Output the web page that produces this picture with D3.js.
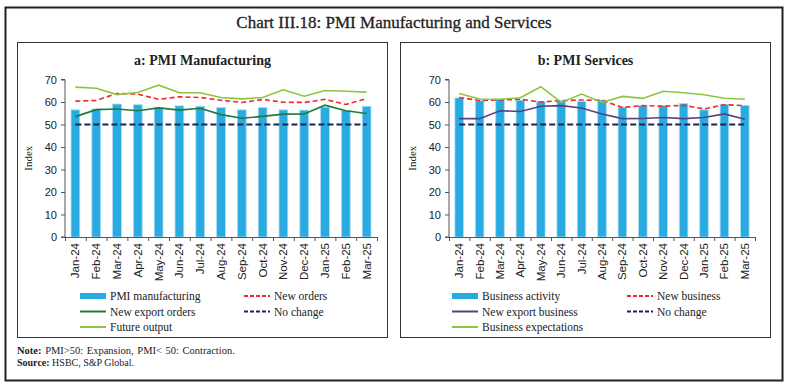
<!DOCTYPE html>
<html>
<head>
<meta charset="utf-8">
<script src="https://cdn.jsdelivr.net/npm/d3@7"></script>
<style>
  body { margin: 0; background: #fff; }
  svg { display: block; font-family: 'Liberation Serif', 'DejaVu Serif', serif; }
  .axis text { font-size: 11px; fill: #222; }
  .axis path, .axis line { stroke: #555; }
  .leg { font-size: 11.5px; fill: #222; }
</style>
</head>
<body>
<script>
var months = ["Jan-24", "Feb-24", "Mar-24", "Apr-24", "May-24", "Jun-24", "Jul-24", "Aug-24",
  "Sep-24", "Oct-24", "Nov-24", "Dec-24", "Jan-25", "Feb-25", "Mar-25"];
var yTicks = [0, 10, 20, 30, 40, 50, 60, 70];

// panel a: manufacturing
var pmiManufacturing = [56.5, 56.9, 59.1, 58.8, 57.5, 58.3, 58.1, 57.5, 56.5, 57.5, 56.5, 56.4, 57.7, 56.3, 58.1];
var newOrders = [60.4, 60.7, 63.8, 63.5, 61.2, 62.3, 62.0, 60.8, 59.8, 61.1, 59.9, 59.8, 61.2, 58.9, 61.5];
var newExportOrders = [53.5, 56.6, 56.9, 56.1, 57.4, 56.4, 57.2, 54.4, 52.8, 53.6, 54.6, 54.7, 58.6, 56.1, 54.9];
var futureOutput = [66.6, 66.1, 63.3, 64.2, 67.5, 64.1, 64.1, 62.0, 61.4, 62.0, 65.4, 62.6, 65.1, 64.8, 64.4];

// panel b: services
var businessActivity = [61.8, 60.6, 61.2, 60.8, 60.2, 60.5, 60.3, 60.9, 57.7, 58.5, 58.4, 59.3, 56.5, 59.0, 58.5];
var newBusiness = [62.0, 60.7, 60.9, 61.2, 60.0, 60.6, 60.9, 60.7, 57.6, 58.4, 58.1, 58.5, 56.9, 58.8, 58.4];
var newExportBusiness = [52.6, 52.6, 56.1, 55.8, 58.1, 58.4, 57.3, 54.7, 52.6, 52.7, 53.1, 52.6, 53.1, 54.7, 52.3];
var businessExpectations = [63.8, 61.3, 61.2, 61.9, 66.8, 59.8, 63.5, 59.8, 62.5, 61.6, 64.8, 64.1, 63.2, 61.7, 61.2];

var noChange = months.map(function () { return 50; });

var W = 788, H = 387;
var svg = d3.select("body").append("svg").attr("width", W).attr("height", H);

// outer frame
svg.append("rect").attr("x", 5.5).attr("y", 7.5).attr("width", 777).attr("height", 373)
  .attr("fill", "none").attr("stroke", "#222").attr("stroke-width", 2);

svg.append("text").attr("x", 394).attr("y", 28).attr("text-anchor", "middle")
  .style("font-size", "17px").style("fill", "#222").style("stroke", "#222").style("stroke-width", 0.3)
  .text("Chart III.18: PMI Manufacturing and Services");

// notes
var note = svg.append("text").attr("x", 17).attr("y", 354).style("font-size", "10.5px").style("fill", "#222")
  .style("word-spacing", "1px");
note.append("tspan").style("font-weight", "bold").text("Note: ");
note.append("tspan").text("PMI>50: Expansion, PMI< 50: Contraction.");
var src = svg.append("text").attr("x", 17).attr("y", 366).style("font-size", "10px").style("fill", "#222");
src.append("tspan").style("font-weight", "bold").text("Source: ");
src.append("tspan").text("HSBC, S&P Global.");

function panel(cfg) {
  var g = svg.append("g");
  g.append("rect").attr("x", cfg.bx).attr("y", 42.5).attr("width", cfg.bw).attr("height", 295)
    .attr("fill", "none").attr("stroke", "#333").attr("stroke-width", 1);
  g.append("text").attr("x", cfg.bx + cfg.bw / 2).attr("y", 65).attr("text-anchor", "middle")
    .style("font-size", "14px").style("font-weight", "bold").style("fill", "#222").text(cfg.title);

  var x = d3.scaleBand().domain(months).range([cfg.x0, cfg.x1]).paddingInner(0.58).paddingOuter(0.29);
  var xEdge = d3.scaleLinear().domain([0, months.length]).range([cfg.x0, cfg.x1]);
  var y = d3.scaleLinear().domain([0, 70]).range([237, 79.5]);

  // bars
  g.selectAll("rect.bar").data(cfg.bars).enter().append("rect").attr("class", "bar")
    .attr("x", function (d, i) { return x(months[i]); })
    .attr("y", function (d) { return y(d); })
    .attr("width", x.bandwidth())
    .attr("height", function (d) { return y(0) - y(d); })
    .attr("fill", "#29abe2").attr("stroke", "#a8dcf3").attr("stroke-width", 0.8);

  // y axis
  var ya = g.append("g").attr("class", "axis").attr("transform", "translate(" + cfg.x0 + ",0)")
    .call(d3.axisLeft(y).tickValues(yTicks).tickSize(4).tickPadding(4));
  ya.select(".domain").attr("d", "M-4," + y(70) + "H0V" + y(0) + "H-4");

  // x axis: edge ticks + month labels
  g.append("g").attr("class", "axis").attr("transform", "translate(0,237)")
    .call(d3.axisBottom(xEdge).ticks(months.length).tickFormat("").tickSizeInner(4).tickSizeOuter(4));
  var xa = g.append("g").attr("class", "axis").attr("transform", "translate(0,237)")
    .call(d3.axisBottom(x).tickSize(0));
  xa.select(".domain").remove();
  xa.selectAll("text").style("font-size", "11.5px").attr("transform", "rotate(-90)").attr("text-anchor", "end")
    .attr("x", -6).attr("y", 0).attr("dy", "0.35em");

  g.append("text").attr("transform", "translate(" + (cfg.x0 - 33) + "," + y(35) + ") rotate(-90)")
    .attr("text-anchor", "middle").style("font-size", "11px").style("fill", "#222").text("Index");

  var line = d3.line()
    .x(function (d, i) { return x(months[i]) + x.bandwidth() / 2; })
    .y(function (d) { return y(d); });

  cfg.lines.forEach(function (s) {
    g.append("path").datum(s.values).attr("d", line).attr("fill", "none")
      .attr("stroke", s.color).attr("stroke-width", s.width)
      .attr("stroke-dasharray", s.dash || null);
  });

  // legend
  var items = [
    { name: cfg.barName, type: "bar" },
    { name: cfg.lines[1].name, s: cfg.lines[1] },
    { name: cfg.lines[0].name, s: cfg.lines[0] },
    { name: cfg.lines[3].name, s: cfg.lines[3] },
    { name: cfg.lines[2].name, s: cfg.lines[2] }
  ];
  items.forEach(function (it, i) {
    var col = i % 2, row = Math.floor(i / 2);
    var lx = col === 0 ? cfg.lx0 : cfg.lx1;
    var ly = 296 + row * 15.5;
    if (it.type === "bar") {
      g.append("rect").attr("x", lx).attr("y", ly - 3).attr("width", 26).attr("height", 6).attr("fill", "#29abe2");
    } else {
      g.append("line").attr("x1", lx).attr("x2", lx + 26).attr("y1", ly).attr("y2", ly)
        .attr("stroke", it.s.color).attr("stroke-width", 2).attr("stroke-dasharray", it.s.dash ? "4,2" : null);
    }
    g.append("text").attr("class", "leg").attr("x", lx + 30).attr("y", ly).attr("dy", "0.35em").text(it.name);
  });
}

panel({
  bx: 17.5, bw: 370, title: "a: PMI Manufacturing", x0: 65, x1: 377, lx0: 80, lx1: 244,
  bars: pmiManufacturing, barName: "PMI manufacturing",
  lines: [
    { name: "New export orders", values: newExportOrders, color: "#1e7b3c", width: 1.6 },
    { name: "New orders", values: newOrders, color: "#f0282d", width: 1.6, dash: "5,3" },
    { name: "Future output", values: futureOutput, color: "#8cc63e", width: 1.6 },
    { name: "No change", values: noChange, color: "#1c2452", width: 2, dash: "6,3" }
  ]
});

panel({
  bx: 400.5, bw: 370, title: "b: PMI Services", x0: 449, x1: 755, lx0: 452, lx1: 627,
  bars: businessActivity, barName: "Business activity",
  lines: [
    { name: "New export business", values: newExportBusiness, color: "#55427f", width: 1.6 },
    { name: "New business", values: newBusiness, color: "#f0282d", width: 1.6, dash: "5,3" },
    { name: "Business expectations", values: businessExpectations, color: "#8cc63e", width: 1.6 },
    { name: "No change", values: noChange, color: "#1c2452", width: 2, dash: "6,3" }
  ]
});
</script>
</body>
</html>
